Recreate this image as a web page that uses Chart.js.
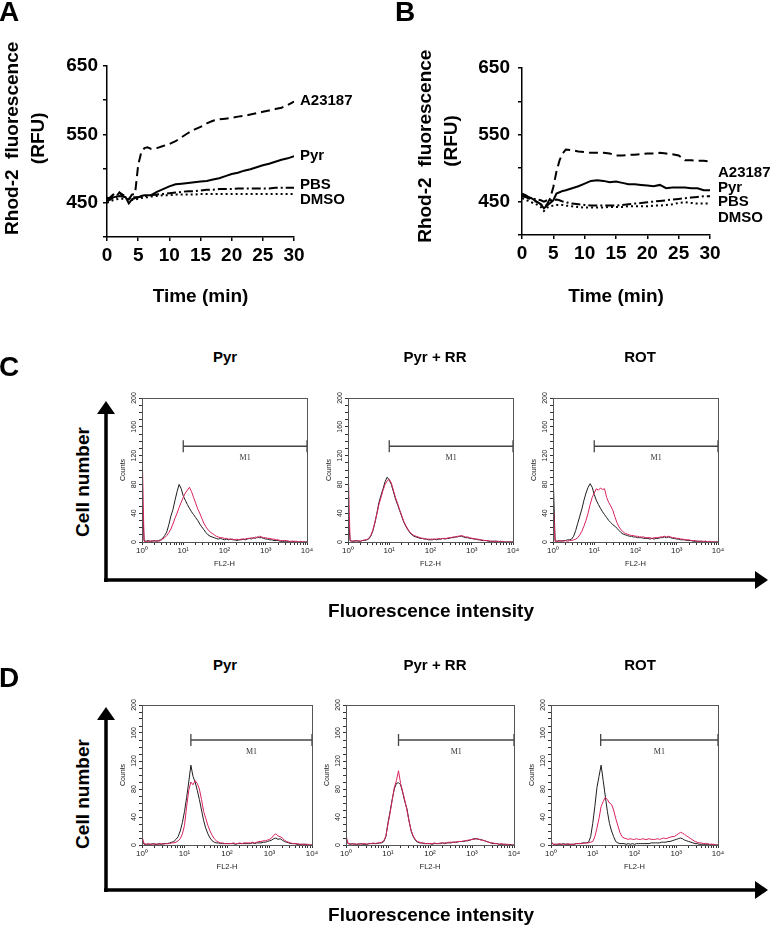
<!DOCTYPE html>
<html>
<head>
<meta charset="utf-8">
<script src="https://cdn.jsdelivr.net/npm/chart.js@4.4.1/dist/chart.umd.min.js"></script>
<style>
body { margin: 0; background: #fff; }
#page { position: relative; width: 771px; height: 926px; overflow: hidden; font-family: "Liberation Sans", Arial, sans-serif; color: #000; }
canvas { position: absolute; }
.t { position: absolute; font-weight: bold; white-space: nowrap; line-height: 1; transform: translate(-50%, -50%); }
.letter { font-size: 28px; }
.sub { font-size: 15px; }
.big { font-size: 19px; }
.rot { transform: translate(-50%, -50%) rotate(-90deg); }
svg { position: absolute; left: 0; top: 0; }
</style>
</head>
<body>
<div id="page">
  <canvas id="chartA"></canvas>
  <canvas id="chartB"></canvas>
  <canvas id="c1"></canvas><canvas id="c2"></canvas><canvas id="c3"></canvas>
  <canvas id="d1"></canvas><canvas id="d2"></canvas><canvas id="d3"></canvas>

  <div class="t letter" style="left:9px;top:12px">A</div>
  <div class="t letter" style="left:405px;top:12px">B</div>
  <div class="t letter" style="left:9px;top:367px">C</div>
  <div class="t letter" style="left:9px;top:678px">D</div>

  <div class="t sub" style="left:225px;top:356px">Pyr</div>
  <div class="t sub" style="left:435px;top:356px">Pyr + RR</div>
  <div class="t sub" style="left:640px;top:356px">ROT</div>
  <div class="t sub" style="left:225px;top:664px">Pyr</div>
  <div class="t sub" style="left:435px;top:664px">Pyr + RR</div>
  <div class="t sub" style="left:640px;top:664px">ROT</div>

  <div class="t big rot" style="left:82px;top:482px">Cell number</div>
  <div class="t big rot" style="left:82px;top:794px">Cell number</div>
  <div class="t big" style="left:431px;top:610px">Fluorescence intensity</div>
  <div class="t big" style="left:431px;top:914px">Fluorescence intensity</div>

  <svg width="771" height="926">
    <g stroke="#000" stroke-width="3.5" fill="none">
      <path d="M106 582 V412 M104 580 H756"/>
      <path d="M106 892 V718 M104 890 H756"/>
    </g>
    <g fill="#000">
      <polygon points="97,414 115,414 106,401"/>
      <polygon points="755,571 755,589 768,580"/>
      <polygon points="97,720 115,720 106,707"/>
      <polygon points="755,881 755,899 768,890"/>
    </g>
  </svg>
</div>

<script>
// ---- panel A / B : Rhod-2 fluorescence over time ----
const timeMin = [0,0.5,1,1.5,2,2.5,3,3.5,4,4.5,5,5.5,6,6.5,7,8,9,10,11,12,13,14,15,16,17,18,19,20,21,22,23,24,25,26,27,28,29,30];
const seriesNames = ['A23187', 'Pyr', 'PBS', 'DMSO'];
const rfuLabels = [450, 550, 650];

const aA23187 = [458,455,462,460,465,462,460,455,462,463,505,524,530,531,529,530,533,536,540,546,552,557,561,566,570,572,573,574,576,577,579,581,583,585,587,589,593,598];
const aPyr    = [452,455,458,459,460,459,458,449,455,457,458,460,461,461,461,466,470,474,477,478,479,480,481,482,484,486,489,492,494,497,499,502,505,507,510,513,515,518];
const aPBS    = [455,458,462,458,465,460,458,456,458,458,458,459,460,460,461,462,463,464,465,466,467,467,468,469,469,470,470,470,471,471,471,471,471,471,472,472,472,472];
const aDMSO   = [450,452,454,455,456,456,456,455,454,455,456,457,458,458,459,460,461,461,462,462,462,462,463,463,463,463,463,463,463,463,463,463,463,463,463,463,463,463];

const bA23187 = [460,458,455,453,451,449,446,441,446,455,472,495,512,522,528,527,525,524,523,523,523,522,519,519,520,520,521,522,522,523,522,521,519,512,512,511,511,510];
const bPyr    = [462,460,457,455,452,449,446,440,444,448,452,462,464,466,467,470,473,477,481,482,481,479,480,478,476,476,475,474,473,475,470,471,471,471,470,470,467,467];
const bPBS    = [458,457,456,455,454,453,452,450,452,452,452,453,452,450,449,447,446,445,444,444,444,444,444,445,446,447,448,449,450,451,452,453,454,455,456,457,458,458];
const bDMSO   = [455,453,451,449,447,445,442,436,441,443,444,445,445,445,444,443,442,441,441,441,441,442,442,442,443,443,443,443,444,444,445,446,448,449,448,447,447,447];

// ---- panels C / D : flow cytometry histograms (x in decades, FL2-H) ----
const decades = [0,0.05,0.1,0.15,0.2,0.25,0.3,0.35,0.4,0.45,0.5,0.55,0.6,0.65,0.7,0.75,0.8,0.85,0.9,0.95,
  1,1.05,1.1,1.15,1.2,1.25,1.3,1.35,1.4,1.45,1.5,1.55,1.6,1.65,1.7,1.75,1.8,1.85,1.9,1.95,
  2,2.05,2.1,2.15,2.2,2.25,2.3,2.35,2.4,2.45,2.5,2.55,2.6,2.65,2.7,2.75,2.8,2.85,2.9,2.95,
  3,3.05,3.1,3.15,3.2,3.25,3.3,3.35,3.4,3.45,3.5,3.55,3.6,3.65,3.7,3.75,3.8,3.85,3.9,3.95,4];
const countLabels = [0, 40, 80, 120, 160, 200];
const decadeLabels = ['10\u2070', '10\u00b9', '10\u00b2', '10\u00b3', '10\u2074'];

const cPyrBlack = [70,2,1,2,1,1,2,1,2,3, 5,9,14,24,36,45,58,70,80,74, 64,58,52,47,42,38,34,30,25,21, 17,13,10,8,7,6,5,4,5,4, 3,4,3,4,3,3,2,3,3,4, 3,4,5,4,6,5,7,6,6,5, 4,4,3,3,2,2,2,1,1,1, 1,1,0,1,0,0,0,0,0,0, 0];
const cPyrRed   = [135,1,0,1,1,2,1,2,1,2, 4,6,9,13,18,25,33,40,48,55, 62,68,72,76,70,62,54,46,40,33, 26,21,17,14,12,10,8,7,6,6, 5,5,4,4,4,3,4,3,4,4, 4,5,5,6,5,7,6,8,7,6, 6,5,5,4,4,3,3,2,2,2, 2,1,1,1,1,1,0,1,0,0, 0];
const cRRBlack  = [45,2,1,1,2,1,1,2,2,3, 4,8,15,26,40,55,65,74,84,90, 86,80,70,60,52,44,36,28,22,17, 13,10,8,7,6,5,5,4,4,3, 3,3,4,3,4,4,5,4,5,5, 6,6,7,7,8,8,7,6,6,5, 5,4,4,3,3,2,2,2,1,1, 1,1,1,0,1,0,0,0,0,0, 0];
const cRRRed    = [110,2,1,2,1,2,1,2,3,3, 5,9,16,27,39,52,62,72,80,85, 87,82,72,62,54,45,37,29,23,18, 14,11,9,8,7,6,5,5,4,4, 4,4,4,4,5,4,5,5,5,6, 6,7,7,8,8,9,8,7,7,6, 5,5,4,4,3,3,2,2,2,1, 1,1,1,1,0,1,0,0,0,0, 0];
const cROTBlack = [100,2,1,2,1,2,2,3,3,4, 8,16,26,36,46,58,68,76,81,76, 66,58,52,47,42,38,34,30,27,24, 22,19,16,13,11,10,9,8,8,7, 7,6,6,6,5,5,5,4,5,4, 5,5,6,6,7,6,7,6,5,5, 4,4,3,3,3,2,2,2,1,1, 1,1,1,0,1,0,0,0,0,0, 0];
const cROTRed   = [60,1,1,1,2,1,2,1,2,2, 3,4,6,10,15,22,30,40,52,62, 68,74,72,75,73,74,62,55,50,44, 35,27,21,17,14,12,11,10,9,9, 8,8,7,7,7,6,6,6,5,6, 6,6,7,7,8,7,8,7,6,6, 5,5,4,4,3,3,3,2,2,2, 1,1,1,1,1,0,1,0,0,0, 0];

const dPyrBlack = [6,1,1,1,1,2,1,1,2,1, 2,2,2,3,4,5,8,12,20,32, 48,68,90,114,98,90,78,65,50,35, 24,16,10,6,4,3,3,2,2,2, 2,2,2,2,1,2,2,2,2,2, 2,2,3,2,3,3,3,4,4,5, 6,7,9,10,8,9,7,5,4,3, 2,2,2,1,1,1,1,1,0,0, 0];
const dPyrRed   = [12,2,1,2,1,1,2,1,1,2, 1,2,2,2,3,3,4,6,9,16, 28,55,78,90,86,92,88,80,65,48, 38,28,20,14,9,6,4,3,3,2, 2,2,2,3,2,2,3,2,3,3, 3,3,4,3,4,5,5,6,6,7, 8,10,14,16,13,12,10,7,5,4, 3,2,2,2,1,1,1,1,1,0, 0];
const dRRBlack  = [8,2,1,2,1,1,1,2,1,1, 1,2,2,2,2,2,3,3,5,12, 32,48,65,80,88,89,86,75,62,52, 35,20,12,7,4,3,3,2,2,2, 2,1,2,2,2,2,3,2,3,3, 3,4,4,4,5,5,5,6,6,7, 8,9,9,8,8,7,6,5,4,3, 2,2,2,1,1,1,1,0,1,0, 0];
const dRRRed    = [14,2,2,1,2,1,2,1,2,2, 1,2,2,3,2,3,3,4,6,13, 30,46,64,82,92,106,88,76,64,50, 34,21,13,8,5,4,3,3,2,2, 2,2,3,2,2,3,3,3,3,4, 4,4,4,5,5,5,6,6,7,7, 8,8,9,9,7,7,6,5,4,3, 3,2,2,1,2,1,1,1,0,0, 0];
const dROTBlack = [4,1,1,1,1,1,2,1,1,1, 1,1,2,2,2,3,3,3,4,12, 31,55,82,98,114,92,70,48,31,20, 12,5,3,2,2,2,1,2,1,2, 1,2,2,2,2,2,2,2,3,3, 3,3,3,4,4,4,5,5,6,7, 8,9,10,9,7,6,5,4,3,2, 2,1,1,1,1,1,0,1,0,0, 0];
const dROTRed   = [6,1,1,1,2,1,1,1,2,1, 1,1,2,2,2,2,3,3,3,4, 5,12,24,38,55,62,68,65,60,58, 50,38,28,18,12,10,9,8,9,8, 8,9,8,8,9,8,8,9,8,8, 8,9,8,9,10,9,10,11,12,12, 14,16,18,17,15,13,11,9,7,5, 4,3,3,2,2,2,1,1,1,0, 0];

// M1 marker: start (decades) and level (counts)
const m1Start = { c1: 1.0, c2: 1.0, c3: 1.0, d1: 1.15, d2: 1.25, d3: 1.19 };
const m1Level = { c: 133, d: 150 };

Chart.defaults.font.family = '"Liberation Sans", Arial, sans-serif';
Chart.defaults.color = '#000';

const endLabels = {
  id: 'endLabels',
  afterDatasetsDraw(chart, args, opts) {
    if (!opts.dy) return;
    const ctx = chart.ctx;
    ctx.save();
    ctx.font = 'bold 15px "Liberation Sans", Arial';
    ctx.fillStyle = '#000';
    ctx.textBaseline = 'middle';
    chart.data.datasets.forEach((ds, i) => {
      const pts = chart.getDatasetMeta(i).data;
      const last = pts[pts.length - 1];
      ctx.fillText(ds.label, last.x + opts.dx, last.y + opts.dy[i]);
    });
    ctx.restore();
  }
};

const facsFrame = {
  id: 'facsFrame',
  afterDraw(chart, args, opts) {
    if (!opts.on) return;
    const ctx = chart.ctx, a = chart.chartArea, y = chart.scales.y, x = chart.scales.x;
    ctx.save();
    ctx.strokeStyle = '#555';
    ctx.lineWidth = 1;
    ctx.strokeRect(a.left + 0.5, a.top + 0.5, a.right - a.left, a.bottom - a.top);
    ctx.fillStyle = '#222';
    ctx.font = '7px "Liberation Sans", Arial';
    ctx.textAlign = 'center';
    ctx.textBaseline = 'middle';
    countLabels.forEach(v => {
      ctx.save();
      ctx.translate(a.left - 8, y.getPixelForValue(v));
      ctx.rotate(-Math.PI / 2);
      ctx.fillText(String(v), 0, 0);
      ctx.restore();
    });
    ctx.font = '8px "Liberation Serif", "Times New Roman", serif';
    ctx.fillStyle = '#333';
    ctx.fillText('M1', x.getPixelForValue((opts.m1 + 4) / 2), y.getPixelForValue(opts.level) + 12);
    ctx.restore();
  }
};
Chart.register(endLabels, facsFrame);

function makeTime(id, left, width, values, pad, yWidth, tickPad, dx, dy, yTitle) {
  const cv = document.getElementById(id);
  cv.width = width; cv.height = 320;
  cv.style.left = left + 'px'; cv.style.top = '0px';
  const dashes = [[9, 5], [], [9, 3, 2, 3], [2, 3]];
  new Chart(cv, {
    type: 'line',
    data: {
      datasets: values.map((v, i) => ({
        label: seriesNames[i],
        data: timeMin.map((t, j) => ({ x: t, y: v[j] })),
        borderColor: '#000', borderWidth: 2, borderDash: dashes[i],
        pointRadius: 0, tension: 0, fill: false
      }))
    },
    options: {
      responsive: false, animation: false, events: [],
      layout: { padding: { left: pad.left, top: pad.top, right: pad.right, bottom: 0 } },
      plugins: { legend: { display: false }, tooltip: { enabled: false }, endLabels: { dx: dx, dy: dy } },
      scales: {
        x: {
          type: 'linear', min: 0, max: 30,
          afterFit: s => { s.height = pad.xH; },
          ticks: { stepSize: 5, autoSkip: false, maxRotation: 0, padding: 3, color: '#000', font: { size: 19, weight: 'bold' } },
          grid: { display: true, drawOnChartArea: false, drawTicks: true, tickLength: 4, color: '#000', lineWidth: 1.5 },
          border: { display: true, color: '#000', width: 1.5 },
          title: { display: true, text: 'Time (min)', color: '#000', font: { size: 19, weight: 'bold' }, padding: { top: 0, bottom: 12 } }
        },
        y: {
          min: 400, max: 650,
          afterFit: s => { s.width = yWidth; },
          ticks: { stepSize: 50, autoSkip: false, padding: tickPad, color: '#000', font: { size: 19, weight: 'bold' },
                   callback: v => rfuLabels.includes(v) ? String(v) : '' },
          grid: { display: true, drawOnChartArea: false, drawTicks: true, tickLength: 4, color: '#000', lineWidth: 1.5 },
          border: { display: true, color: '#000', width: 1.5 },
          title: { display: true, text: yTitle, color: '#000',
                   font: { size: 19, weight: 'bold', lineHeight: 1.35 }, padding: { top: 0, bottom: 0 } }
        }
      }
    }
  });
}

const sp = '\u00a0';
makeTime('chartA', 0, 360, [aA23187, aPyr, aPBS, aDMSO],
  { left: 0, top: 66, right: 66, xH: 83 }, 107, 5, 6, [-1, 0, -3, 6],
  [sp.repeat(5) + 'Rhod-2  fluorescence', sp.repeat(5) + '(RFU)']);
makeTime('chartB', 360, 411, [bA23187, bPyr, bPBS, bDMSO],
  { left: 53, top: 68, right: 61, xH: 85 }, 109, 8, 8, [11, -2, 6, 14],
  [sp.repeat(2) + 'Rhod-2  fluorescence', sp.repeat(4) + '(RFU)']);

function makeHist(id, box, black, red, m1, level) {
  const cv = document.getElementById(id);
  cv.width = box.w + 48; cv.height = box.h + 40;
  cv.style.left = (box.x - 38) + 'px';
  cv.style.top = (box.y - 8) + 'px';
  new Chart(cv, {
    type: 'line',
    data: {
      datasets: [
        { data: [{ x: m1, y: level }, { x: 4, y: level }], borderColor: '#444', borderWidth: 1.3,
          pointStyle: 'line', pointRotation: 90, pointRadius: 6, pointBorderWidth: 1.3, pointBorderColor: '#444', order: 0 },
        { data: decades.map((d, i) => ({ x: d, y: red[i] })), borderColor: '#d9235a', borderWidth: 1, pointRadius: 0, tension: 0, order: 1 },
        { data: decades.map((d, i) => ({ x: d, y: black[i] })), borderColor: '#1e1e1e', borderWidth: 1, pointRadius: 0, tension: 0, order: 2 }
      ]
    },
    options: {
      responsive: false, animation: false, events: [],
      layout: { padding: { left: 8, top: 8, right: 10, bottom: 0 } },
      plugins: { legend: { display: false }, tooltip: { enabled: false }, facsFrame: { on: true, m1: m1, level: level } },
      scales: {
        x: {
          type: 'linear', min: 0, max: 4,
          afterFit: s => { s.height = 32; },
          afterBuildTicks: s => {
            const t = [];
            for (let d = 0; d < 4; d++) for (let k = 1; k < 10; k++) t.push({ value: d + Math.log10(k) });
            t.push({ value: 4 });
            s.ticks = t;
          },
          ticks: { autoSkip: false, maxRotation: 0, padding: 1, color: '#222', font: { size: 8 },
                   callback: v => Number.isInteger(v) ? decadeLabels[v] : '' },
          grid: { display: true, drawOnChartArea: false, drawTicks: true, tickLength: 3, color: '#333' },
          border: { display: true, color: '#555' },
          title: { display: true, text: 'FL2-H', color: '#222', font: { size: 7.5 }, padding: { top: 0, bottom: 6 } }
        },
        y: {
          min: 0, max: 200,
          afterFit: s => { s.width = 30; },
          ticks: { display: false, stepSize: 10 },
          grid: { display: true, drawOnChartArea: false, drawTicks: true, tickLength: 3, color: '#333' },
          border: { display: true, color: '#555' },
          title: { display: true, text: 'Counts', color: '#222', font: { size: 7 }, padding: { top: 7, bottom: 0 } }
        }
      }
    }
  });
}

makeHist('c1', { x: 142, y: 398, w: 165, h: 144 }, cPyrBlack, cPyrRed, m1Start.c1, m1Level.c);
makeHist('c2', { x: 348, y: 398, w: 165, h: 144 }, cRRBlack, cRRRed, m1Start.c2, m1Level.c);
makeHist('c3', { x: 553, y: 398, w: 165, h: 144 }, cROTBlack, cROTRed, m1Start.c3, m1Level.c);
makeHist('d1', { x: 142, y: 705, w: 170, h: 140 }, dPyrBlack, dPyrRed, m1Start.d1, m1Level.d);
makeHist('d2', { x: 346, y: 705, w: 168, h: 140 }, dRRBlack, dRRRed, m1Start.d2, m1Level.d);
makeHist('d3', { x: 551, y: 705, w: 167, h: 140 }, dROTBlack, dROTRed, m1Start.d3, m1Level.d);
</script>
</body>
</html>
